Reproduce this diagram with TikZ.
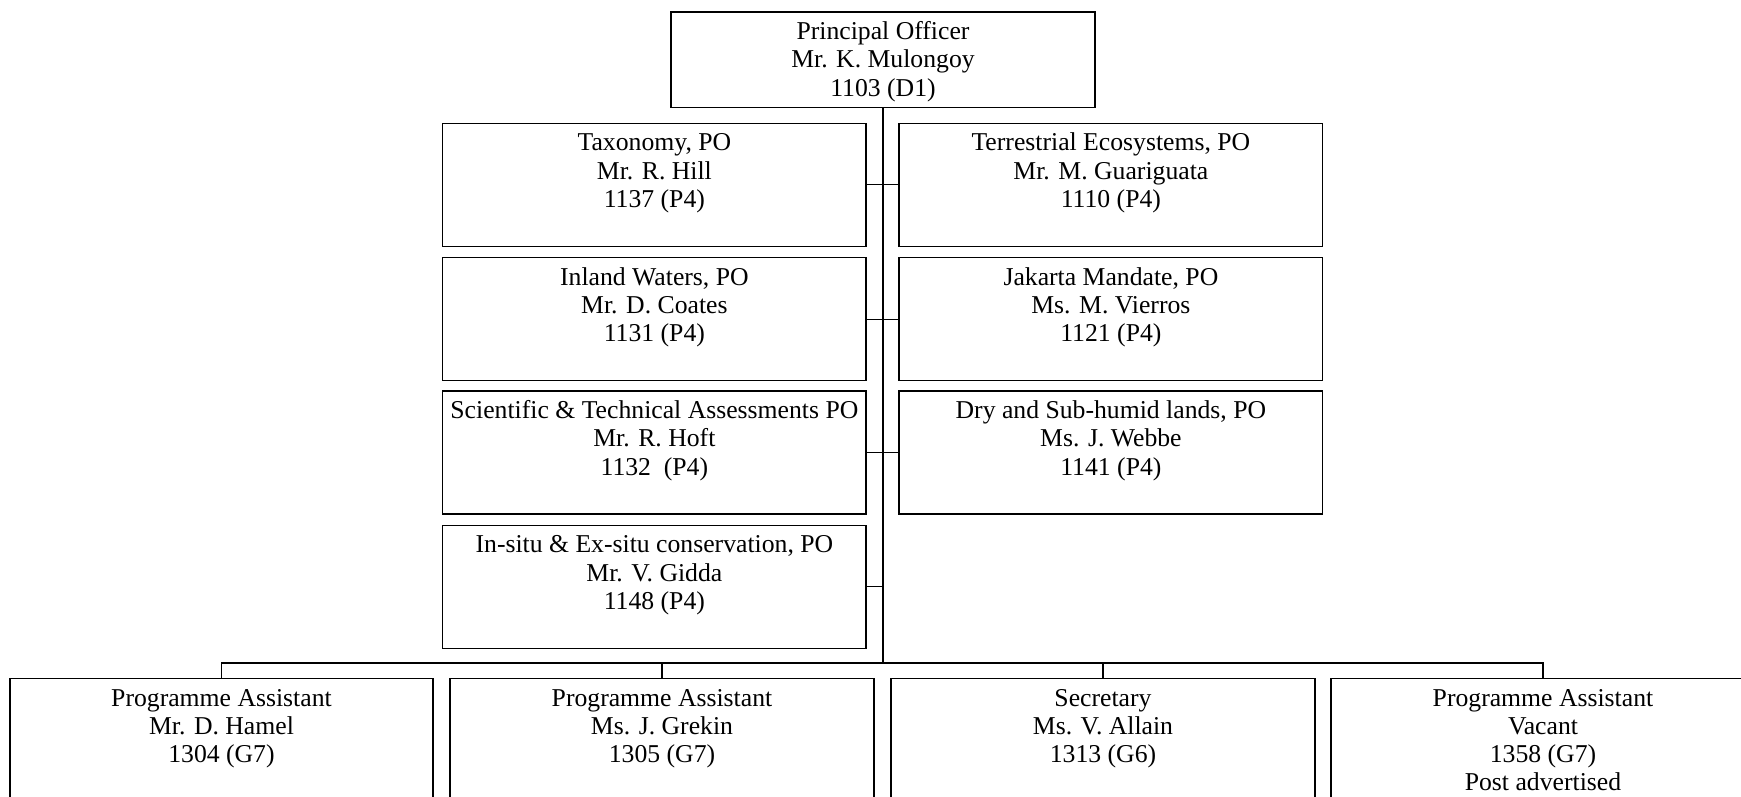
\documentclass[tikz,border=0pt]{standalone}
\usepackage{fontspec}
\setmainfont{Liberation Serif}
\newcommand{\boxtext}[3]{\parbox[c][#2pt][t]{#1pt}{\centering\rule{0pt}{27.5pt}#3}}
\tikzset{
  orgbox/.style={draw=black, line width=1.4pt, inner sep=0pt, outer sep=0pt, fill=white},
  thinline/.style={line width=1.1pt},
  trunk/.style={line width=2.2pt},
}
\begin{document}
\begin{tikzpicture}[x=1pt,y=-1pt, font=\fontsize{25.7}{28.3}\selectfont]
\useasboundingbox (0,0) rectangle (1741,797);
\begin{scope}
\clip (0,0) rectangle (1741,797);
% top
\node[orgbox] (top) at (883,59.8) {\boxtext{424}{95.5}{Principal Officer\\Mr. K. Mulongoy\\1103 (D1)}};
% left column
\node[orgbox] (l1) at (654.4,184.8) {\boxtext{423.3}{123}{Taxonomy, PO\\Mr. R. Hill\\1137 (P4)}};
\node[orgbox] (l2) at (654.4,319.2) {\boxtext{423.3}{123}{Inland Waters, PO\\Mr. D. Coates\\1131 (P4)}};
\node[orgbox] (l3) at (654.4,452.5) {\boxtext{423.3}{123}{Scientific \& Technical Assessments PO\\Mr. R. Hoft\\1132\ \ (P4)}};
\node[orgbox] (l4) at (654.4,586.7) {\boxtext{423.3}{123}{In-situ \& Ex-situ conservation, PO\\Mr. V. Gidda\\1148 (P4)}};
% right column
\node[orgbox] (r1) at (1110.9,184.8) {\boxtext{423.7}{123}{Terrestrial Ecosystems, PO\\Mr. M. Guariguata\\1110 (P4)}};
\node[orgbox] (r2) at (1110.9,319.2) {\boxtext{423.7}{123}{Jakarta Mandate, PO\\Ms. M. Vierros\\1121 (P4)}};
\node[orgbox] (r3) at (1110.9,452.5) {\boxtext{423.7}{123}{Dry and Sub-humid lands, PO\\Ms. J. Webbe\\1141 (P4)}};
% bottom row
\node[orgbox] (b1) at (221.5,740) {\boxtext{423}{123}{Programme Assistant\\Mr. D. Hamel\\1304 (G7)}};
\node[orgbox] (b2) at (662,740) {\boxtext{424}{123}{Programme Assistant\\Ms. J. Grekin\\1305 (G7)}};
\node[orgbox] (b3) at (1103,740) {\boxtext{424}{123}{Secretary\\Ms. V. Allain\\1313 (G6)}};
\node[orgbox] (b4) at (1543,740) {\boxtext{424}{123}{Programme Assistant\\Vacant\\1358 (G7)\\Post advertised}};
% connectors
\coordinate (j4) at (883,586.7);
\coordinate (bus) at (883,663);
\draw[trunk] (top.south) -- (j4);
\draw[thinline] (j4) -- (bus);
\draw[thinline] (l1.east) -- (r1.west);
\draw[thinline] (l2.east) -- (r2.west);
\draw[thinline] (l3.east) -- (r3.west);
\draw[thinline] (l4.east) -- (j4);
\draw[thinline] (b1.north) |- (bus) -| (b4.north);
\draw[thinline] (b2.north) -- (b2.north |- bus);
\draw[thinline] (b3.north) -- (b3.north |- bus);
\end{scope}
\end{tikzpicture}
\end{document}
